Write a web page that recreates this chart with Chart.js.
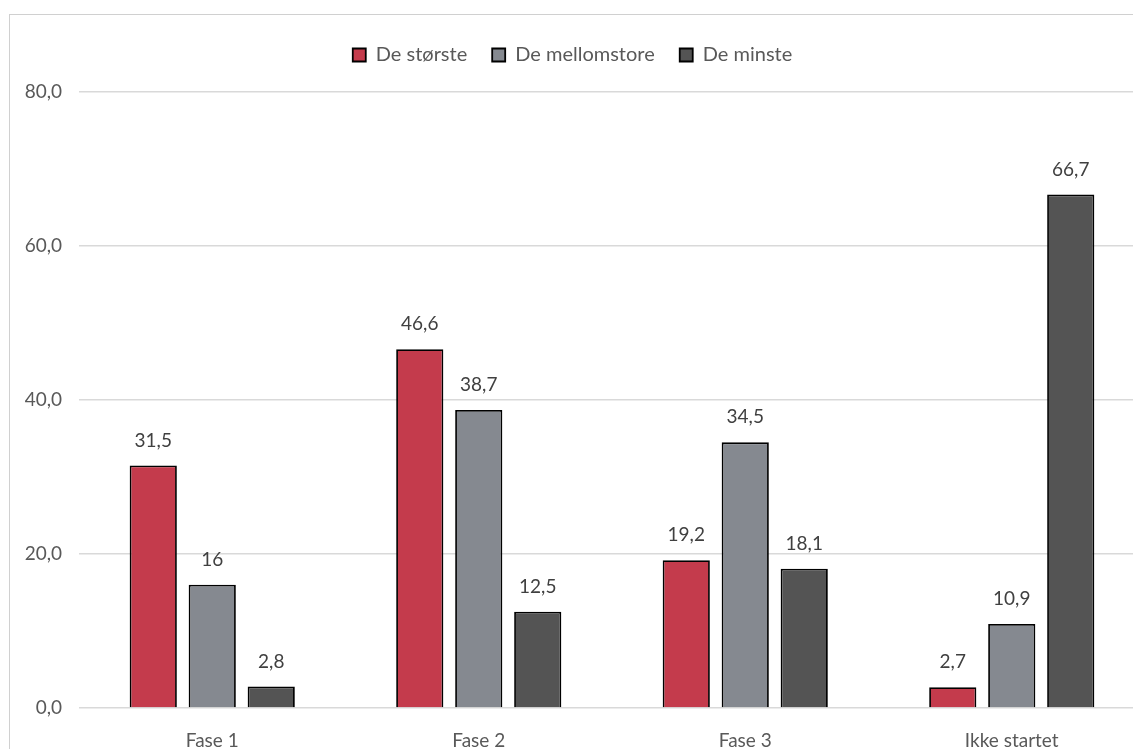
<!DOCTYPE html>
<html>
<head>
<meta charset="utf-8">
<script src="https://cdn.jsdelivr.net/npm/chart.js@4/dist/chart.umd.min.js"></script>
<style>
  body { margin: 0; background: #fff; overflow: hidden; }
  #ramme { position: absolute; left: 9px; top: 14px; width: 1200px; height: 800px; border: 1px solid #d0d0d0; }
  #boks { position: absolute; left: 0; top: 0; width: 1160px; height: 770px; }
</style>
</head>
<body>
<div id="ramme"></div>
<div id="boks"><canvas id="diagram"></canvas></div>
<script>
// kategorier og verdier lest av figuren
const kategorier = ["Fase 1", "Fase 2", "Fase 3", "Ikke startet"];
const deStorste = [31.5, 46.6, 19.2, 2.7];
const deMellomstore = [16, 38.7, 34.5, 10.9];
const deMinste = [2.8, 12.5, 18.1, 66.7];
const yTicks = [0, 20, 40, 60, 80];

const skrift = "Lato, 'Open Sans', sans-serif";

// tegner verdiene over stolpene
const verdiEtiketter = {
	id: "verdiEtiketter",
	afterDatasetsDraw: function (chart) {
		const ctx = chart.ctx;
		ctx.save();
		ctx.font = "19px " + skrift;
		ctx.fillStyle = "#404040";
		ctx.textAlign = "center";
		ctx.textBaseline = "middle";
		chart.data.datasets.forEach(function (ds, i) {
			chart.getDatasetMeta(i).data.forEach(function (bar, j) {
				ctx.fillText(String(ds.data[j]).replace(".", ","), bar.x, bar.y - 25);
			});
		});
		ctx.restore();
	},
};

// litt ekstra luft under forklaringen
const legendLuft = {
	id: "legendLuft",
	beforeInit: function (chart) {
		const fit = chart.legend.fit;
		chart.legend.fit = function () {
			fit.call(this);
			this.height += 17;
		};
	},
};

new Chart(document.getElementById("diagram"), {
	type: "bar",
	data: {
		labels: kategorier,
		datasets: [
			{ label: "De største", data: deStorste, backgroundColor: "#c43b4c", borderColor: "#000", borderWidth: 1.8 },
			{ label: "De mellomstore", data: deMellomstore, backgroundColor: "#858990", borderColor: "#000", borderWidth: 1.8 },
			{ label: "De minste", data: deMinste, backgroundColor: "#545454", borderColor: "#000", borderWidth: 1.8 },
		],
	},
	options: {
		responsive: true,
		maintainAspectRatio: false,
		animation: false,
		datasets: { bar: { barPercentage: 0.8, categoryPercentage: 0.664 } },
		layout: { padding: { left: 0, right: 15, top: 20, bottom: 0 } },
		plugins: {
			legend: {
				position: "top",
				labels: {
					boxWidth: 13,
					boxHeight: 13,
					padding: 25,
					color: "#595959",
					font: { family: skrift, size: 20 },
				},
			},
			tooltip: { enabled: false },
		},
		scales: {
			x: {
				grid: { display: false },
				border: { display: false },
				ticks: { color: "#595959", font: { family: skrift, size: 19 }, padding: 13 },
				afterFit: function (scale) { scale.height = 62; },
			},
			y: {
				min: 0,
				max: 80,
				afterBuildTicks: function (scale) { scale.ticks = yTicks.map(function (v) { return { value: v }; }); },
				grid: { color: "#d9d9d9", lineWidth: 1.5, drawTicks: false },
				border: { display: false },
				ticks: {
					color: "#595959",
					font: { family: skrift, size: 19 },
					padding: 17,
					callback: function (v) { return v.toFixed(1).replace(".", ","); },
				},
				afterFit: function (scale) { scale.width = 79; },
			},
		},
	},
	plugins: [legendLuft, verdiEtiketter],
});
</script>
</body>
</html>
